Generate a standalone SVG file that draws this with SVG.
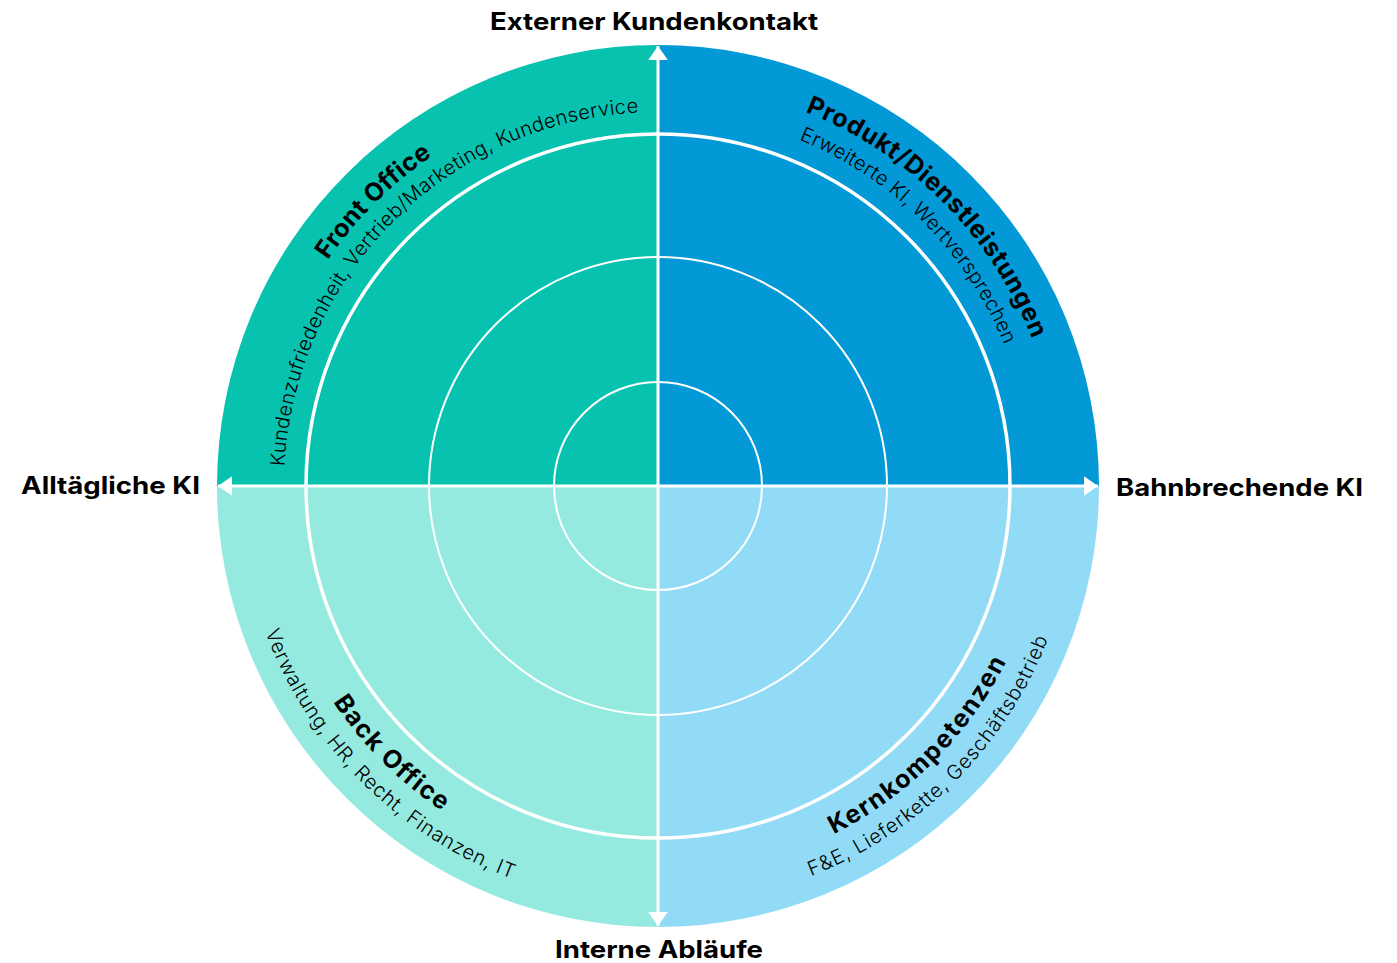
<svg xmlns="http://www.w3.org/2000/svg" width="1397" height="963" viewBox="0 0 1397 963">
<style>
.axis-label{font-family:Inter,"Liberation Sans",sans-serif;font-weight:700;font-size:24px;fill:#000}
.q-title{font-family:Inter,"Liberation Sans",sans-serif;font-weight:700;font-size:25px;fill:#000}
.q-sub{font-family:Inter,"Liberation Sans",sans-serif;font-weight:300;font-size:20px;fill:#000}
.ring{fill:none;stroke:#fff}
.axis{stroke:#fff;stroke-width:3;fill:none}
</style>
<defs>
<marker id="arrow" viewBox="0 0 10 14" refX="10" refY="7" markerWidth="4.7" markerHeight="6.7" orient="auto" markerUnits="strokeWidth">
<path d="M0,0 L10,7 L0,14 Z" fill="#fff"/>
</marker>
<path id="tl-title" d="M258,486 A400,400 0 0 1 658,86"/>
<path id="tl-sub" d="M284,486 A374,374 0 0 1 658,112"/>
<path id="tr-title" d="M658,84 A402,402 0 0 1 1060,486"/>
<path id="tr-sub" d="M658,112 A374,374 0 0 1 1032,486"/>
<path id="bl-title" d="M268,486 A390,390 0 0 0 658,876"/>
<path id="bl-sub" d="M239,486 A419,419 0 0 0 658,905"/>
<path id="br-title" d="M658,876 A390,390 0 0 0 1048,486"/>
<path id="br-sub" d="M658,905 A419,419 0 0 0 1077,486"/>
</defs>
<g id="front-office">
<path d="M658,486 L217,486 A441,441 0 0 1 658,45 Z" fill="#08C2B0"/>
<text class="q-title"><textPath href="#tl-title" startOffset="50%" text-anchor="middle" textLength="148" lengthAdjust="spacing">Front Office</textPath></text>
<text class="q-sub"><textPath href="#tl-sub" startOffset="50%" text-anchor="middle" textLength="548" lengthAdjust="spacing">Kundenzufriedenheit, Vertrieb/Marketing, Kundenservice</textPath></text>
</g>
<g id="produkt">
<path d="M658,486 L658,45 A441,441 0 0 1 1099,486 Z" fill="#0299D6"/>
<text class="q-title"><textPath href="#tr-title" startOffset="50%" text-anchor="middle" textLength="330" lengthAdjust="spacing">Produkt/Dienstleistungen</textPath></text>
<text class="q-sub"><textPath href="#tr-sub" startOffset="50%" text-anchor="middle" textLength="298" lengthAdjust="spacing">Erweiterte KI, Wertversprechen</textPath></text>
</g>
<g id="back-office">
<path d="M658,486 L217,486 A441,441 0 0 0 658,927 Z" fill="#95EADF"/>
<text class="q-title"><textPath href="#bl-title" startOffset="50%" text-anchor="middle" textLength="155" lengthAdjust="spacing">Back Office</textPath></text>
<text class="q-sub"><textPath href="#bl-sub" startOffset="50%" text-anchor="middle" textLength="360" lengthAdjust="spacing">Verwaltung, HR, Recht, Finanzen, IT</textPath></text>
</g>
<g id="kernkompetenzen">
<path d="M658,486 L1099,486 A441,441 0 0 1 658,927 Z" fill="#92DBF7"/>
<text class="q-title"><textPath href="#br-title" startOffset="50%" text-anchor="middle" textLength="248" lengthAdjust="spacing">Kernkompetenzen</textPath></text>
<text class="q-sub"><textPath href="#br-sub" startOffset="50%" text-anchor="middle" textLength="345" lengthAdjust="spacing">F&amp;E, Lieferkette, Geschäftsbetrieb</textPath></text>
</g>
<g id="rings">
<circle class="ring" cx="658" cy="486" r="352" stroke-width="3.5"/>
<circle class="ring" cx="658" cy="486" r="229" stroke-width="2"/>
<circle class="ring" cx="658" cy="486" r="104" stroke-width="2"/>
</g>
<g id="connectors">
<line class="axis" x1="658" y1="486" x2="658" y2="46" marker-end="url(#arrow)"/>
<line class="axis" x1="658" y1="486" x2="658" y2="926" marker-end="url(#arrow)"/>
<line class="axis" x1="658" y1="486" x2="218" y2="486" marker-end="url(#arrow)"/>
<line class="axis" x1="658" y1="486" x2="1098" y2="486" marker-end="url(#arrow)"/>
</g>
<g id="axis-labels">
<text class="axis-label" x="490" y="30" textLength="328" lengthAdjust="spacingAndGlyphs">Externer Kundenkontakt</text>
<text class="axis-label" x="21" y="494" textLength="179" lengthAdjust="spacingAndGlyphs">Alltägliche KI</text>
<text class="axis-label" x="1116" y="496" textLength="247" lengthAdjust="spacingAndGlyphs">Bahnbrechende KI</text>
<text class="axis-label" x="555" y="958" textLength="208" lengthAdjust="spacingAndGlyphs">Interne Abläufe</text>
</g>
</svg>
